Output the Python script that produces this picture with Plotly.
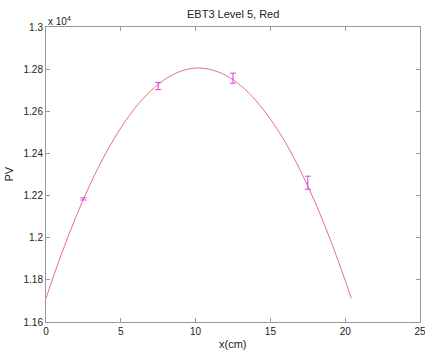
import plotly.graph_objects as go

# Measured points (x in cm, PV)
x_pts = [2.5, 7.5, 12.5, 17.5]
pv_pts = [12184, 12720, 12757, 12261]
pv_err = [5, 17, 24, 31]

# Fitted curve
x_fit = [0, 1, 2, 3, 4, 5, 6, 7, 8, 9, 10, 11, 12, 13, 14, 15, 16, 17, 18, 19, 20, 20.4]
pv_fit = [11713, 11916, 12099, 12261, 12401, 12521, 12620, 12697, 12754, 12790, 12805,
          12798, 12771, 12723, 12653, 12563, 12452, 12319, 12166, 11992, 11797, 11713]

y_tickvals = [11600, 11800, 12000, 12200, 12400, 12600, 12800, 13000]
y_ticktext = ["1.16", "1.18", "1.2", "1.22", "1.24", "1.26", "1.28", "1.3"]
x_tickvals = [0, 5, 10, 15, 20, 25]

FONT = "Liberation Sans, Arial"

fig = go.Figure()
fig.add_trace(go.Scatter(x=x_fit, y=pv_fit, mode="lines", line=dict(color="#e8707e", width=1, shape="spline"),
                         showlegend=False, hoverinfo="skip"))
fig.add_trace(go.Scatter(x=x_pts, y=pv_pts, mode="markers", marker=dict(size=1, color="#e040e0"),
                         error_y=dict(type="data", array=pv_err, color="#e040e0", thickness=1, width=3),
                         showlegend=False))

axis_common = dict(showgrid=False, zeroline=False, showline=True, linecolor="#999999", linewidth=1,
                   mirror="ticks", ticks="inside", ticklen=4, tickcolor="#999999", automargin=False,
                   ticklabeloverflow="allow",
                   tickfont=dict(family=FONT, size=10, color="#222"))
fig.update_xaxes(range=[0, 25], tickvals=x_tickvals, **axis_common)
fig.update_yaxes(range=[11600, 13000], tickvals=y_tickvals, ticktext=y_ticktext, **axis_common)

fig.update_layout(
    width=425, height=354,
    margin=dict(l=46, r=5, t=27, b=32, autoexpand=False),
    plot_bgcolor="white", paper_bgcolor="white",
    annotations=[
        dict(text="x 10<sup>4</sup>", xref="paper", yref="paper", x=0, y=1, xanchor="left",
             yanchor="bottom", showarrow=False, yshift=-2, font=dict(family=FONT, size=10, color="#222")),
        dict(text="EBT3 Level 5, Red", xref="paper", yref="paper", x=0.5, y=1, xanchor="center",
             yanchor="bottom", showarrow=False, yshift=5, font=dict(family=FONT, size=11, color="#222")),
        dict(text="x(cm)", xref="paper", yref="paper", x=0.5, y=0, xanchor="center",
             yanchor="top", showarrow=False, yshift=-14, font=dict(family=FONT, size=11, color="#222")),
        dict(text="PV", xref="paper", yref="paper", x=0, y=0.5, xanchor="right",
             yanchor="middle", showarrow=False, xshift=-30, textangle=-90,
             font=dict(family=FONT, size=11, color="#222")),
    ],
)

fig.write_html("out.html", config={"displayModeBar": False},
               post_script="document.body.style.margin='0';document.body.style.overflow='hidden';")
